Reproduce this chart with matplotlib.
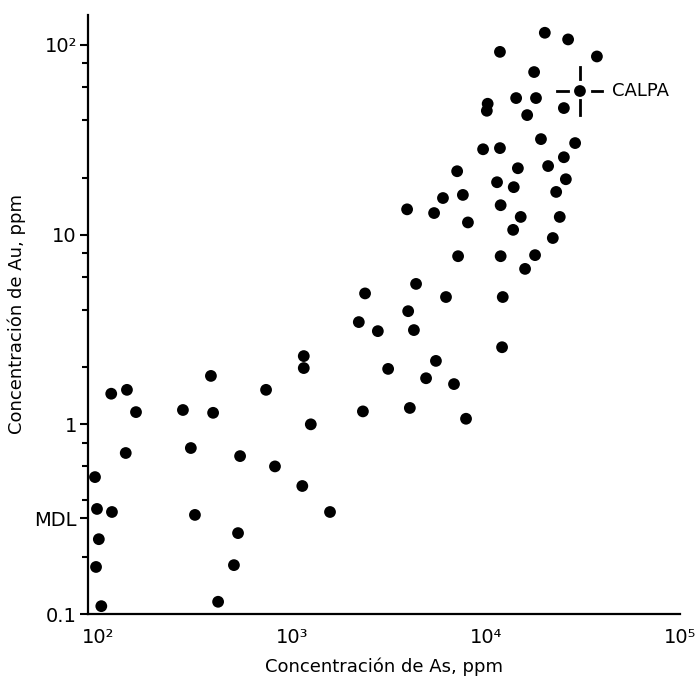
import numpy as np
import matplotlib
matplotlib.use("Agg")
import matplotlib.pyplot as plt
from matplotlib.ticker import FixedLocator, NullFormatter

# concentraciones (ppm)
as_ppm = [20100, 26500, 11800, 37300, 17700, 14300, 18100, 10200, 10100, 16300,
          25200, 19200, 28800, 9660, 11800, 25200, 20900, 14600, 7100, 25800,
          11400, 13900, 23000, 6000, 7600, 3920, 5400, 11900, 8070, 15100,
          24000, 13800, 22100, 7180, 11900, 17900, 15900, 4360, 2380, 6220,
          12200, 3970, 2210, 2770, 4250, 12100, 1150, 1150, 3130, 5520,
          4910, 6840, 2320, 4050, 7890, 1250, 1130, 1570, 117, 141,
          382, 735, 157, 274, 392, 139, 301, 540, 817, 96.5,
          98.8, 118, 316, 101, 527, 97.7, 502, 104, 416]
au_ppm = [116, 107, 92, 87, 72, 52.5, 52.5, 49, 45, 42.7,
          46.5, 31.9, 30.4, 28.2, 28.6, 25.6, 23.0, 22.4, 21.6, 19.6,
          18.9, 17.8, 16.8, 15.6, 16.2, 13.6, 13.0, 14.3, 11.6, 12.4,
          12.4, 10.6, 9.6, 7.7, 7.7, 7.8, 6.6, 5.5, 4.9, 4.69,
          4.69, 3.95, 3.46, 3.1, 3.14, 2.55, 2.29, 1.98, 1.96, 2.16,
          1.75, 1.63, 1.17, 1.22, 1.07, 1.0, 0.473, 0.345, 1.45, 1.52,
          1.80, 1.52, 1.16, 1.19, 1.15, 0.706, 0.75, 0.68, 0.60, 0.527,
          0.358, 0.345, 0.333, 0.248, 0.267, 0.177, 0.181, 0.110, 0.116]

calpa_as = 30500
calpa_au = 57.2
mdl = 0.32

x_ticks = [1e2, 1e3, 1e4, 1e5]
x_labels = ['10²', '10³', '10⁴', '10⁵']
y_ticks = [0.1, mdl, 1, 10, 100]
y_labels = ['0.1', 'MDL', '1', '10', '10²']

plt.rcParams['font.family'] = ['DejaVu Sans']

fig = plt.figure(figsize=(6.96, 6.83), dpi=100)
ax = fig.add_axes([88 / 696, 69 / 683, 592 / 696, 599 / 683])

ax.scatter(as_ppm, au_ppm, s=72, color='black', edgecolors='none', zorder=3)
ax.scatter([calpa_as], [calpa_au], s=72, color='black', edgecolors='none', zorder=3)

ax.set_xscale('log')
ax.set_yscale('log')
ax.set_xlim(10 ** (2 - 10 / 194), 1e5)
ax.set_ylim(0.1, 10 ** (2 + 30 / 189.7))

# cruz de CALPA (desplazamientos en pixeles -> factores log)
px_x = lambda p: calpa_as * 10 ** (p / 194)
px_y = lambda p: calpa_au * 10 ** (-p / 189.7)
lw = 2
ax.plot([px_x(-23), px_x(-12)], [calpa_au, calpa_au], color='black', lw=lw)
ax.plot([px_x(12), px_x(22)], [calpa_au, calpa_au], color='black', lw=lw)
ax.plot([calpa_as, calpa_as], [px_y(-24), px_y(-12)], color='black', lw=lw)
ax.plot([calpa_as, calpa_as], [px_y(9), px_y(24)], color='black', lw=lw)
ax.text(px_x(32), calpa_au, 'CALPA', fontsize=13, va='center', ha='left')

for s in ['top', 'right']:
    ax.spines[s].set_visible(False)
ax.spines['left'].set_linewidth(1.6)
ax.spines['bottom'].set_linewidth(1.6)

ax.xaxis.set_major_locator(FixedLocator(x_ticks))
ax.set_xticklabels(x_labels, fontsize=14)
ax.xaxis.set_minor_locator(FixedLocator([]))
ax.tick_params(axis='x', which='both', length=0, pad=10)

ax.yaxis.set_major_locator(FixedLocator(y_ticks))
ax.set_yticklabels(y_labels, fontsize=14)
minor = [m * d for d in [0.1, 1, 10] for m in [2, 4, 6, 8]]
ax.yaxis.set_minor_locator(FixedLocator(minor))
ax.yaxis.set_minor_formatter(NullFormatter())
ax.tick_params(axis='y', which='major', length=6, width=1.5, pad=2)
ax.tick_params(axis='y', which='minor', length=4, width=1.5)

ax.set_xlabel('Concentración de As, ppm', fontsize=13, labelpad=8)
ax.set_ylabel('Concentración de Au, ppm', fontsize=13, labelpad=6)

fig.savefig('out.png', dpi=100)
